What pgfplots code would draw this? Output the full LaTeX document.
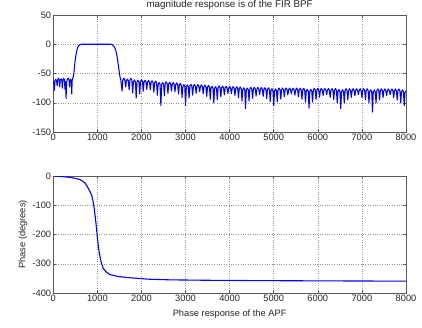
\documentclass[border=0pt]{standalone}
\usepackage{pgfplots}
\pgfplotsset{compat=1.18}
\usepackage{fontspec}
\setmainfont{Liberation Sans}
\definecolor{axcol}{gray}{0.35}
\definecolor{gridcol}{gray}{0.6}
\pgfplotstableread{
f mag
0 -61
12 -66
25 -79
38 -63
55 -60
75 -63
88 -71
100 -61
115 -58
132 -61
145 -73
158 -61
175 -59
192 -62
205 -75
218 -61
235 -58
252 -61
265 -77
277 -64
290 -93
302 -65
318 -60
340 -58
358 -61
370 -73
382 -62
395 -60
408 -64
418 -85
428 -62
440 -58
452 -56
465 -50
492 -30
510 -20
530 -12
550 -6
570 -3
600 -1
640 0
700 0
800 0
900 0
1000 0
1100 0
1200 0
1300 0
1330 -0.5
1350 -1.5
1375 -3.5
1400 -7
1422 -12
1445 -20
1465 -30
1490 -44
1510 -55
1530 -60
1560 -80
1575 -62
1600 -58
1622 -61
1640 -73
1658 -62.5
1680 -59.5
1702 -62.5
1720 -78
1738 -61.5
1760 -58.5
1782 -61.5
1800 -83.5
1818 -64
1840 -61
1862 -64
1880 -92
1898 -64.5
1920 -61.5
1942 -64.5
1960 -85
1978 -63.5
2000 -60.5
2022 -63.5
2040 -80
2058 -64.5
2080 -61.5
2102 -64.5
2120 -77
2138 -64.8
2160 -61.8
2182 -64.8
2200 -78
2218 -65.5
2240 -62.5
2262 -65.5
2280 -82
2298 -66
2320 -63
2342 -66
2360 -87
2378 -68.5
2400 -65.5
2422 -68.5
2440 -105
2458 -68.5
2480 -65.5
2502 -68.5
2520 -88
2538 -67.3
2560 -64.3
2582 -67.3
2600 -84
2618 -68
2640 -65
2662 -68
2680 -80
2698 -68.5
2720 -65.5
2742 -68.5
2760 -81
2778 -69
2800 -66
2822 -69
2840 -85
2858 -70
2880 -67
2902 -70
2920 -91
2938 -72
2960 -69
2982 -72
3000 -105
3018 -72.5
3040 -69.5
3062 -72.5
3080 -92
3098 -71.5
3120 -68.5
3142 -71.5
3160 -87
3178 -71.5
3200 -68.5
3222 -71.5
3240 -84
3258 -72
3280 -69
3302 -72
3320 -81
3338 -72.3
3360 -69.3
3382 -72.3
3400 -84.5
3418 -73
3440 -70
3462 -73
3480 -89
3498 -73.3
3520 -70.3
3542 -73.3
3560 -94
3578 -75
3600 -72
3622 -75
3640 -100
3658 -75.5
3680 -72.5
3702 -75.5
3720 -95
3738 -74.2
3760 -71.2
3782 -74.2
3800 -90
3818 -74.5
3840 -71.5
3862 -74.5
3880 -86.5
3898 -74.8
3920 -71.8
3942 -74.8
3960 -84
3978 -75
4000 -72
4022 -75
4040 -84.5
4058 -75.3
4080 -72.3
4102 -75.3
4120 -87.5
4138 -75.5
4160 -72.5
4182 -75.5
4200 -91.5
4218 -76
4240 -73
4262 -76
4280 -97
4298 -77.5
4320 -74.5
4342 -77.5
4360 -110
4378 -78
4400 -75
4422 -78
4440 -97
4458 -76.5
4480 -73.5
4502 -76.5
4520 -92.5
4538 -76.6
4560 -73.6
4582 -76.6
4600 -88.7
4618 -76.8
4640 -73.8
4662 -76.8
4680 -86
4698 -77
4720 -74
4742 -77
4760 -89
4778 -77.2
4800 -74.2
4822 -77.2
4840 -93
4858 -77.5
4880 -74.5
4902 -77.5
4920 -98
4938 -79
4960 -76
4982 -79
5000 -105
5018 -79.5
5040 -76.5
5062 -79.5
5080 -98.6
5098 -77.8
5120 -74.8
5142 -77.8
5160 -93.7
5178 -77.8
5200 -74.8
5222 -77.8
5240 -89.7
5258 -77.8
5280 -74.8
5302 -77.8
5320 -86.8
5338 -77.9
5360 -74.9
5382 -77.9
5400 -85
5418 -78
5440 -75
5462 -78
5480 -87
5498 -78
5520 -75
5542 -78
5560 -90
5578 -78.1
5600 -75.1
5622 -78.1
5640 -94
5658 -78.3
5680 -75.3
5702 -78.3
5720 -99
5738 -80
5760 -77
5782 -80
5800 -109
5818 -80.2
5840 -77.2
5862 -80.2
5880 -99
5898 -78.5
5920 -75.5
5942 -78.5
5960 -94.5
5978 -78.5
6000 -75.5
6022 -78.5
6040 -90.5
6058 -78.5
6080 -75.5
6102 -78.5
6120 -87.6
6138 -78.6
6160 -75.6
6182 -78.6
6200 -86
6218 -78.7
6240 -75.7
6262 -78.7
6280 -90.7
6298 -78.8
6320 -75.8
6342 -78.8
6360 -94.7
6378 -78.8
6400 -75.8
6422 -78.8
6440 -100
6458 -80.5
6480 -77.5
6502 -80.5
6520 -110
6538 -80.8
6560 -77.8
6582 -80.8
6600 -100
6618 -79
6640 -76
6662 -79
6680 -95
6698 -79
6720 -76
6742 -79
6760 -91
6778 -79
6800 -76
6822 -79
6840 -88
6858 -79
6880 -76
6902 -79
6920 -86
6938 -79
6960 -76
6982 -79
7000 -91
7018 -79
7040 -76
7062 -79
7080 -95
7098 -79.1
7120 -76.1
7142 -79.1
7160 -100
7178 -81
7200 -78
7222 -81
7240 -116
7258 -81.3
7280 -78.3
7302 -81.3
7320 -100
7338 -79.3
7360 -76.3
7382 -79.3
7400 -95
7418 -79.3
7440 -76.3
7462 -79.3
7480 -91
7498 -79.3
7520 -76.3
7542 -79.3
7560 -88
7578 -79.4
7600 -76.4
7622 -79.4
7640 -86
7658 -79.4
7680 -76.4
7702 -79.4
7720 -91.4
7738 -79.4
7760 -76.4
7782 -79.4
7800 -95.4
7818 -79.5
7840 -76.5
7862 -79.5
7880 -100
7898 -81
7920 -78
7942 -81
7960 -105
7978 -82
8000 -80
}\magtable
\pgfplotstableread{
f ph
0 0
100 -0.5
200 -2
300 -3.5
400 -5
500 -8
600 -12
680 -19
720 -24
771 -36
830 -52
870 -66
900 -85
925 -108
950 -138
970 -165
990 -195
1006 -219
1030 -250
1059 -276
1090 -297
1134 -316
1200 -328
1285 -337
1450 -343
1664 -347
2000 -351
2193 -353
2646 -355
3500 -356.5
4500 -357.5
6000 -358.5
8000 -359.5
}\phtable
\pgfplotsset{
  mstyle/.style={
    scale only axis,
    width=352.7pt, height=117pt,
    anchor=south west,
    xmin=0, xmax=8000,
    xtick={0,1000,...,8000},
    tick align=inside,
    major tick length=3pt,
    grid=major,
    major grid style={dotted, gridcol, line width=0.5pt},
    axis line style={axcol, line width=0.6pt},
    tick style={axcol, line width=0.5pt},
    every tick label/.append style={font=\fontsize{9.3}{11}\selectfont, text=black!85},
    label style={font=\fontsize{9.3}{11}\selectfont, text=black!85},
    /pgf/number format/assume math mode=true,
    /pgf/number format/1000 sep={},
    scaled ticks=false,
    xticklabel style={inner sep=1.5pt},
    yticklabel style={inner sep=2pt},
  }
}
\begin{document}
\begin{tikzpicture}[x=1pt,y=1pt]
\path[use as bounding box] (0,0) rectangle (422,327);
\begin{axis}[mstyle,
  at={(53.3pt,195pt)},
  ymin=-150, ymax=50,
  ytick={-150,-100,-50,0,50},
  title={magnitude response is of the FIR BPF},
  title style={at={(0.5,1)}, anchor=base, yshift=1pt, inner sep=0pt,
    font=\fontsize{9.8}{11}\selectfont, text=black!85},
]
\addplot[blue, line width=1.05pt, line join=round] table[x=f, y=mag] {\magtable};
\end{axis}
\begin{axis}[mstyle,
  at={(53.3pt,34pt)},
  ymin=-400, ymax=0,
  ytick={-400,-300,-200,-100,0},
  xlabel={Phase response of the APF},
  ylabel={Phase (degrees)},
  xlabel style={at={(axis description cs:0.5,0)}, anchor=base, yshift=-23pt, inner sep=0pt},
  ylabel style={at={(axis description cs:-0.086,0.5)}, anchor=center, inner sep=0pt},
]
\addplot[blue, line width=1.1pt] table[x=f, y=ph] {\phtable};
\end{axis}
\end{tikzpicture}
\end{document}
